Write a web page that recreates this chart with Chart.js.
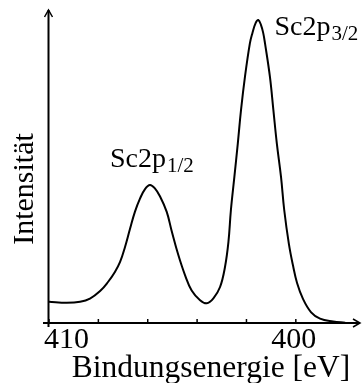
<!DOCTYPE html>
<html lang="de">

<head>
    <meta charset="UTF-8">
    <title>Sc2p XPS</title>
    <script src="https://cdn.jsdelivr.net/npm/chart.js"></script>
    <style>
        body {
            margin: 0;
            background: #fff;
        }
    </style>
</head>

<body>
    <canvas id="xpsChart" width="363" height="383"></canvas>

    <script>
        // Bindungsenergie (eV) and Intensitaet (arb. units, 0..100)
        const energy = [
            410.0, 409.28, 408.74, 408.34, 407.93, 407.61, 407.33, 407.12, 406.92, 406.72,
            406.52, 406.31, 406.11, 405.91, 405.71, 405.5, 405.23, 405.03, 404.76, 404.49,
            404.22, 403.88, 403.61, 403.34, 403.07, 402.87, 402.73, 402.63, 402.49, 402.35,
            402.22, 402.06, 401.86, 401.76, 401.63, 401.52, 401.41, 401.32, 401.25, 401.05,
            400.91, 400.77, 400.6, 400.47, 400.28, 400.11, 399.95, 399.71, 399.38, 399.02,
            398.49, 398.0
        ];
        const intensity = [
            6.8, 6.5, 6.8, 7.8, 10.2, 13.1, 16.3, 19.5, 24.3, 30.0,
            35.5, 39.8, 42.8, 44.1, 43.0, 40.4, 35.5, 29.4, 21.7, 15.3,
            10.4, 7.3, 6.3, 7.9, 11.5, 17.9, 25.9, 36.1, 46.7, 57.4,
            68.1, 78.7, 89.4, 92.6, 95.8, 96.8, 95.2, 92.6, 89.4, 78.7,
            68.1, 57.4, 46.7, 36.1, 25.2, 18.2, 12.8, 7.7, 3.4, 1.4,
            0.5, 0.1
        ];
        const xTicks = [410, 408, 406, 404, 402, 400];
        const xTickLabels = ['410', '', '', '', '', '400'];
        const peakLabels = [
            { main: 'Sc2p', sub: '1/2' },
            { main: 'Sc2p', sub: '3/2' }
        ];

        const serif = '"Liberation Serif", "DejaVu Serif", serif';

        // axes with arrow heads, inward ticks and the text, drawn by hand
        const axesPlugin = {
            id: 'axesPlugin',
            afterDraw(chart) {
                const c = chart.ctx;
                const xs = chart.scales.x;
                const ys = chart.scales.y;
                const y0 = ys.getPixelForValue(0);
                const x0 = xs.getPixelForValue(410) - 0.5;
                const top = chart.chartArea.top;
                const right = chart.chartArea.right;

                c.save();
                c.strokeStyle = '#000';
                c.fillStyle = '#000';
                c.lineWidth = 2;

                // x axis
                c.beginPath();
                c.moveTo(43, y0);
                c.lineTo(right, y0);
                c.stroke();
                // y axis
                c.beginPath();
                c.moveTo(x0, y0 + 4);
                c.lineTo(x0, top);
                c.stroke();

                c.lineWidth = 1.5;
                c.beginPath();
                c.moveTo(right - 7, y0 - 4);
                c.lineTo(right, y0);
                c.lineTo(right - 7, y0 + 4);
                c.moveTo(x0 - 4, top + 7);
                c.lineTo(x0, top);
                c.lineTo(x0 + 4, top + 7);
                c.stroke();

                // tick marks pointing up
                xTicks.forEach(v => {
                    const px = xs.getPixelForValue(v);
                    c.beginPath();
                    c.moveTo(px, y0);
                    c.lineTo(px, y0 - 4);
                    c.stroke();
                });

                // tick labels
                c.font = '30px ' + serif;
                c.textBaseline = 'alphabetic';
                xTicks.forEach((v, i) => {
                    if (!xTickLabels[i]) return;
                    const px = xs.getPixelForValue(v);
                    if (i === 0) {
                        c.textAlign = 'left';
                        c.fillText(xTickLabels[i], px - 5, 348);
                    } else {
                        c.textAlign = 'center';
                        c.fillText(xTickLabels[i], px - 2, 348);
                    }
                });

                // axis titles
                c.font = '31.5px ' + serif;
                c.textAlign = 'center';
                c.fillText('Bindungsenergie [eV]', 211, 377);

                c.save();
                c.translate(33, 189);
                c.rotate(-Math.PI / 2);
                c.font = '30px ' + serif;
                c.fillText('Intensität', 0, 0);
                c.restore();

                // peak labels with subscripts
                const spots = [[110, 166.5], [274.5, 35]];
                c.textAlign = 'left';
                peakLabels.forEach((lab, i) => {
                    const [lx, ly] = spots[i];
                    c.font = '28px ' + serif;
                    c.fillText(lab.main, lx, ly);
                    const w = c.measureText(lab.main).width;
                    c.font = '21px ' + serif;
                    c.fillText(lab.sub, lx + w + 1, ly + 5);
                });

                c.restore();
            }
        };

        const ctx = document.getElementById('xpsChart').getContext('2d');
        const chart = new Chart(ctx, {
            type: 'line',
            data: {
                datasets: [{
                    data: energy.map((e, i) => ({ x: e, y: intensity[i] })),
                    borderColor: '#000',
                    borderWidth: 2,
                    pointRadius: 0,
                    tension: 0.4,
                    fill: false,
                    clip: false
                }]
            },
            options: {
                responsive: false,
                animation: false,
                devicePixelRatio: 1,
                layout: {
                    padding: { left: 49, right: 3, top: 10, bottom: 60 }
                },
                scales: {
                    x: {
                        type: 'linear',
                        reverse: true,
                        min: 397.4,
                        max: 410,
                        display: false
                    },
                    y: {
                        min: 0,
                        max: 100,
                        display: false
                    }
                },
                plugins: {
                    legend: { display: false },
                    tooltip: { enabled: false }
                }
            },
            plugins: [axesPlugin]
        });
    </script>
</body>

</html>
